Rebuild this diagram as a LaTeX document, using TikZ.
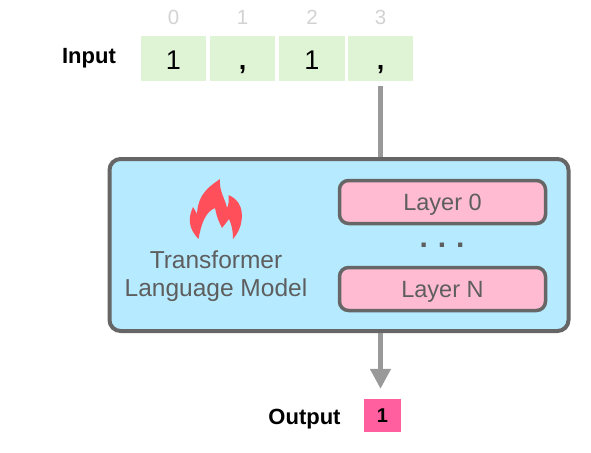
\documentclass[tikz,border=0pt]{standalone}
\usepackage{fontspec}
\setmainfont{Liberation Sans}
\usetikzlibrary{arrows.meta,calc}
\definecolor{cellgreen}{HTML}{DFF3D5}
\definecolor{modelblue}{HTML}{B5EAFF}
\definecolor{layerpink}{HTML}{FFBBD2}
\definecolor{outpink}{HTML}{FF5F9E}
\definecolor{flamered}{HTML}{FF4F5B}
\definecolor{edgegray}{HTML}{666666}
\definecolor{textgray}{HTML}{5E5E5E}
\definecolor{idxgray}{HTML}{D2D2D2}
\definecolor{wiregray}{HTML}{999999}
\tikzset{
 cell/.style={fill=cellgreen,minimum width=65.5pt,minimum height=45pt,inner sep=0pt,text height=23pt,text depth=0pt,font=\fontsize{27}{30}\selectfont},
 idx/.style={text=idxgray,inner sep=0pt,font=\fontsize{20.5}{24}\selectfont},
 lbl/.style={inner sep=0pt,text height=15pt,text depth=0pt,font=\bfseries\fontsize{22}{26}\selectfont},
 layerbox/.style={draw=edgegray,line width=3.5pt,fill=layerpink,rounded corners=9pt,minimum width=206pt,minimum height=43pt,inner sep=0pt,text height=16pt,text depth=0pt,text=textgray,font=\fontsize{23.5}{28}\selectfont},
 wire/.style={draw=wiregray,line width=4.5pt}
}
\begin{document}
\begin{tikzpicture}[x=1pt,y=-1pt]
 \useasboundingbox (0,0) rectangle (591,452);
 % input row
 \foreach \X/\T [count=\N from 0] in {173.5/1,242.5/{\textbf{,}},312/1,380.5/{\textbf{,}}}
 {\node[cell] (c\N) at (\X,58.5) {\T};
  \node[idx] (i\N) at (\X,17) {\N};}
 \node[lbl] (input) at (89,56) {Input};
 % model
 \node[draw=edgegray,line width=4pt,fill=modelblue,rounded corners=11pt,minimum width=459pt,minimum height=172pt,inner sep=0pt] (model) at (339,245) {};
 \node[layerbox] (l0) at (442.5,202) {Layer 0};
 \node[layerbox] (lN) at (442.5,289) {Layer N};
 \node[inner sep=0pt,text=textgray,font=\bfseries\fontsize{30}{34}\selectfont] (dots) at (442,245) {.\,\,.\,\,.};
 \node[inner sep=0pt,align=center,text=textgray,font=\fontsize{24.5}{28}\selectfont] (name) at (216,276) {Transformer\\Language Model};
 % flame
 \fill[flamered] (220,179) .. controls (212,185) and (198,192) .. (197,214)
  .. controls (195,210) and (194,209) .. (193,207)
  .. controls (188,218) and (188,228) .. (198.5,239)
  .. controls (201,225) and (205,212) .. (215,208)
  .. controls (217,218) and (219,222) .. (222,228)
  .. controls (225,224) and (227,222) .. (229,219)
  .. controls (232,225) and (233,232) .. (233,239)
  .. controls (243,228) and (244,212) .. (239,204)
  .. controls (237,200) and (233,197) .. (228.5,195)
  .. controls (229,200) and (229,204) .. (227,208)
  .. controls (225,198) and (219,192) .. (220,179) -- cycle;
 % output
 \node[fill=outpink,minimum width=37pt,minimum height=33pt,inner sep=0pt,font=\bfseries\fontsize{20}{24}\selectfont] (out) at (382.5,415.5) {1};
 \node[lbl] (output) at (304.5,417) {Output};
 % wires
 \draw[wire,shorten <=5pt] (c3.south) -- (c3.south |- model.north);
 \draw[wire,shorten >=10pt,-{Triangle[length=20pt,width=20pt]}] (model.south -| c3.south) -- (c3.south |- out.north);
\end{tikzpicture}
\end{document}
